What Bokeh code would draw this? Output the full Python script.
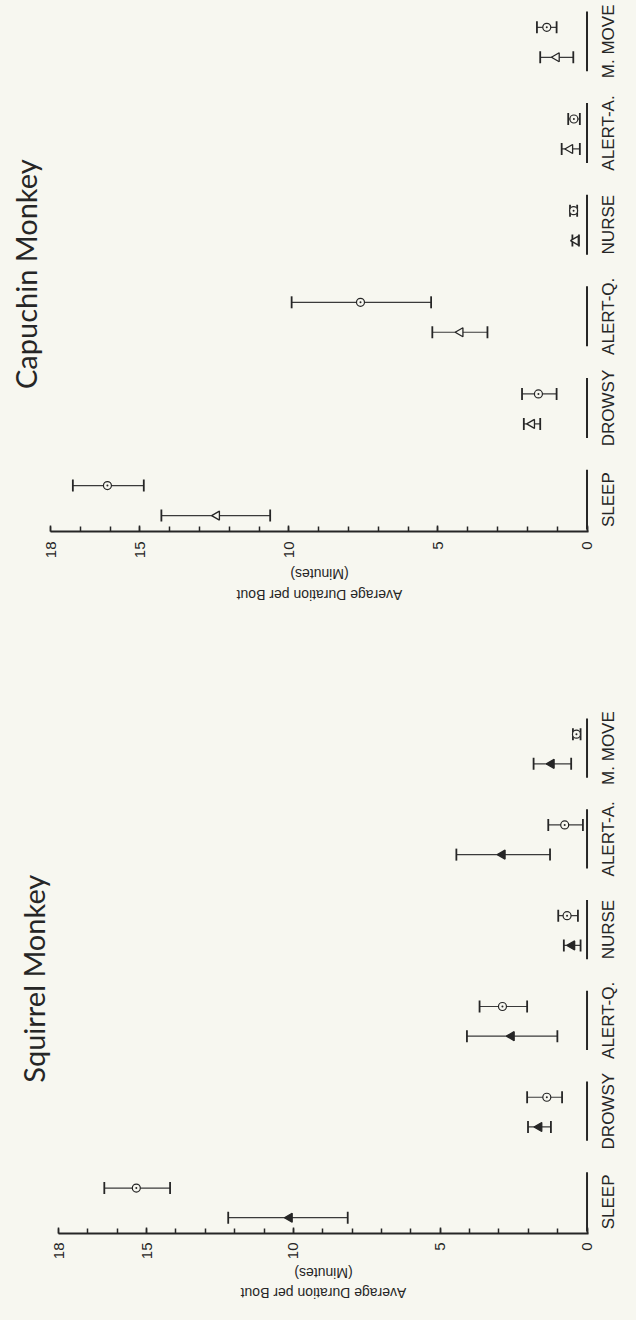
import math
from bokeh.plotting import figure
from bokeh.models import (ColumnDataSource, FactorRange, Range1d, FixedTicker,
                          LinearAxis)
from bokeh.layouts import column, row
from bokeh.transform import dodge
from bokeh.embed import file_html
from bokeh.resources import INLINE

# ---------------- data ----------------
categories = ["SLEEP", "DROWSY", "ALERT-Q.", "NURSE", "ALERT-A.", "M. MOVE"]

# Capuchin monkey
cap_tri_mean = [12.42, 1.85, 4.25, 0.38, 0.57, 1.02]
cap_tri_lo = [10.63, 1.57, 3.34, 0.27, 0.24, 0.46]
cap_tri_hi = [14.28, 2.12, 5.19, 0.49, 0.85, 1.57]
cap_cir_mean = [16.09, 1.63, 7.60, 0.45, 0.44, 1.35]
cap_cir_lo = [14.87, 1.02, 5.23, 0.33, 0.24, 1.02]
cap_cir_hi = [17.25, 2.18, 9.91, 0.57, 0.63, 1.68]

# Squirrel monkey
sq_tri_mean = [10.13, 1.63, 2.57, 0.51, 2.88, 1.21]
sq_tri_lo = [8.15, 1.23, 1.01, 0.22, 1.26, 0.54]
sq_tri_hi = [12.22, 2.01, 4.09, 0.79, 4.45, 1.82]
sq_cir_mean = [15.35, 1.37, 2.88, 0.68, 0.76, 0.36]
sq_cir_lo = [14.20, 0.85, 2.04, 0.31, 0.14, 0.22]
sq_cir_hi = [16.44, 2.04, 3.66, 0.98, 1.32, 0.48]

value_ticks = [0, 5, 10, 15, 18]
value_minor_ticks = list(range(0, 19))
value_label = "Average Duration per Bout"
value_unit = "(Minutes)"

# ---------------- style ----------------
BG = "#f7f7f0"
INK = "#262626"
FONT = "Liberation Sans"
FACTOR_PAD = 0.438
LABEL_PX = 14
# approximate text widths in em for the (Arial-metric) label font
EM_WIDTH = {value_label: 11.84, value_unit: 4.17}


def style_fig(p):
    p.background_fill_color = BG
    p.border_fill_color = BG
    p.outline_line_color = None
    p.xgrid.visible = False
    p.ygrid.visible = False


def make_panel(title, tri_mean, tri_lo, tri_hi, cir_mean, cir_lo, cir_hi,
               tri_filled, b_left, b_top, frame_w, frame_h, b_bottom,
               title_offset, tick_standoff, stand_unit, stand_label):
    yr = FactorRange(factors=categories, factor_padding=FACTOR_PAD, range_padding=0)
    x_start, x_end = max(value_ticks), min(value_ticks) - 0.05
    xr = Range1d(x_start, x_end)
    p = figure(frame_width=frame_w, frame_height=frame_h, x_range=xr, y_range=yr,
               y_axis_location=None, output_backend="svg",
               toolbar_location=None, title=title, title_location="left",
               min_border_left=b_left, min_border_right=8,
               min_border_top=b_top, min_border_bottom=b_bottom)
    style_fig(p)

    p.title.text_font = "Lato"
    p.title.text_font_style = "normal"
    p.title.text_font_size = "29px"
    p.title.text_color = INK
    p.title.align = "center"
    p.title.vertical_align = "top"
    p.title.standoff = 12
    p.title.offset = title_offset

    src = ColumnDataSource(dict(cat=categories,
                                tmean=tri_mean, tlo=tri_lo, thi=tri_hi,
                                cmean=cir_mean, clo=cir_lo, chi=cir_hi,
                                base=[0] * len(categories)))
    yt = dodge("cat", -0.25, range=yr)
    yc = dodge("cat", 0.22, range=yr)

    # category brackets at the zero line
    p.segment(x0="base", x1="base", y0=dodge("cat", -0.47, range=yr),
              y1=dodge("cat", 0.47, range=yr), source=src,
              line_color=INK, line_width=2)

    for y, lo, hi in ((yt, "tlo", "thi"), (yc, "clo", "chi")):
        p.segment(x0=lo, x1=hi, y0=y, y1=y, source=src,
                  line_color="#3a3a3a", line_width=1.2)
        for end in (lo, hi):
            p.scatter(x=end, y=y, source=src, marker="dash",
                      angle=math.pi / 2, size=12, line_color=INK,
                      line_width=1.8)

    p.scatter(x="tmean", y=yt, source=src, marker="triangle",
              angle=math.pi / 2, size=9, line_color=INK, line_width=1.3,
              fill_color=INK if tri_filled else BG)
    p.scatter(x="cmean", y=yc, source=src, marker="circle_dot", size=8,
              line_color=INK, line_width=1.2, fill_color=BG)

    xa = p.xaxis[0]
    xa.ticker = FixedTicker(ticks=value_ticks, minor_ticks=value_minor_ticks)
    xa.axis_line_color = INK
    xa.axis_line_width = 2
    xa.major_tick_in = 6
    xa.major_tick_out = 0
    xa.minor_tick_in = 5
    xa.minor_tick_out = 0
    xa.major_tick_line_color = INK
    xa.minor_tick_line_color = INK
    xa.major_tick_line_width = 1.5
    xa.minor_tick_line_width = 1.5
    xa.major_label_orientation = math.pi / 2
    xa.major_label_standoff = tick_standoff
    xa.major_label_text_font = FONT
    xa.major_label_text_font_size = "15px"
    xa.major_label_text_color = INK

    # upside-down value-axis title, as two extra label-only axes.
    # Labels rotated by pi hang to the right of their anchor, so the anchor
    # is moved left by half the text width to centre the text.
    mid = (x_start + x_end) / 2
    ppu = frame_w / abs(x_start - x_end)
    for txt, stand in ((value_unit, stand_unit), (value_label, stand_label)):
        anchor = mid + (EM_WIDTH[txt] * LABEL_PX / 2) / ppu
        ax = LinearAxis(ticker=FixedTicker(ticks=[anchor], minor_ticks=[]),
                        major_label_overrides={anchor: txt})
        ax.axis_line_color = None
        ax.major_tick_line_color = None
        ax.minor_tick_line_color = None
        ax.major_tick_in = 0
        ax.major_tick_out = 0
        ax.major_label_orientation = math.pi
        ax.major_label_standoff = stand
        ax.major_label_text_font = FONT
        ax.major_label_text_font_size = "%dpx" % LABEL_PX
        ax.major_label_text_color = INK
        p.add_layout(ax, "below")

    # narrow companion figure carrying the category labels (reading upward)
    q = figure(frame_width=2, frame_height=frame_h, x_range=Range1d(0, 1),
               y_range=yr, x_axis_location=None, y_axis_location="left",
               output_backend="svg", toolbar_location=None,
               min_border_left=22, min_border_right=0,
               min_border_top=b_top, min_border_bottom=b_bottom)
    style_fig(q)
    ya = q.yaxis[0]
    ya.axis_line_color = None
    ya.major_tick_line_color = None
    ya.minor_tick_line_color = None
    ya.major_label_orientation = "parallel"
    ya.major_label_standoff = 0
    ya.major_label_text_font = FONT
    ya.major_label_text_font_size = "17px"
    ya.major_label_text_color = INK
    return row(p, q, spacing=0)


cap = make_panel("Capuchin  Monkey", cap_tri_mean, cap_tri_lo, cap_tri_hi,
                 cap_cir_mean, cap_cir_lo, cap_cir_hi, False,
                 50, 9, 538, 522, 121, 2, 10, 12, 2)
sq = make_panel("Squirrel  Monkey", sq_tri_mean, sq_tri_lo, sq_tri_hi,
                sq_cir_mean, sq_cir_lo, sq_cir_hi, True,
                58, 64, 530, 517, 71, 10, 9, 10, 1)

layout = column(cap, sq, spacing=0)
layout.background = BG

html = file_html(layout, INLINE)
html = html.replace("<head>", "<head><style>body{background:%s;}</style>" % BG, 1)
open("out.html", "w").write(html)
